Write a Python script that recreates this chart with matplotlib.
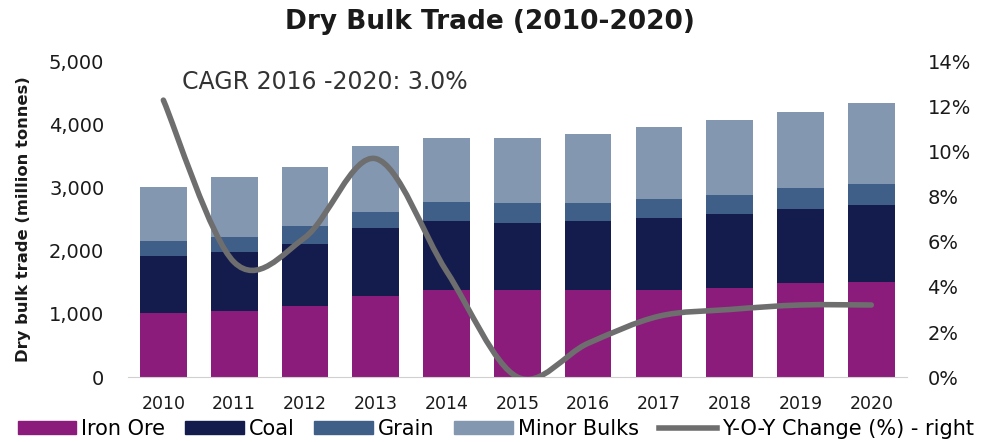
import numpy as np
import matplotlib
matplotlib.use("Agg")
import matplotlib.pyplot as plt
from matplotlib.path import Path
from matplotlib.patches import PathPatch, Patch
from matplotlib.lines import Line2D
from matplotlib.ticker import FuncFormatter

plt.rcParams['font.family'] = ['DejaVu Sans']

years = ['2010', '2011', '2012', '2013', '2014', '2015', '2016', '2017', '2018', '2019', '2020']
iron_ore = [1010, 1050, 1120, 1290, 1380, 1380, 1380, 1380, 1420, 1490, 1510]
coal = [910, 940, 990, 1070, 1100, 1070, 1090, 1140, 1160, 1180, 1220]
grain = [240, 230, 280, 260, 300, 310, 290, 310, 310, 330, 330]
minor_bulks = [860, 950, 950, 1050, 1020, 1030, 1090, 1130, 1190, 1210, 1290]
yoy_change = [12.3, 5.1, 6.2, 9.7, 4.7, 0.0, 1.5, 2.7, 3.0, 3.2, 3.2]

series_names = ['Iron Ore', 'Coal', 'Grain', 'Minor Bulks']
series_colors = ['#8C1C7B', '#141C4E', '#3F5E88', '#8497B1']
line_color = '#6E6E6E'
text_color = '#1a1a1a'

fig = plt.figure(figsize=(9.92, 4.42), dpi=100)
ax = fig.add_axes([0.129, 0.147, 0.785, 0.713])

x = np.arange(len(years))
bottom = np.zeros(len(years))
for name, vals, col in zip(series_names, [iron_ore, coal, grain, minor_bulks], series_colors):
    ax.bar(x, vals, width=0.66, bottom=bottom, color=col, label=name, zorder=2)
    bottom += np.array(vals)

ax.set_xlim(-0.5, len(years) - 0.5)
ax.set_ylim(0, 5000)
ax.set_yticks(np.arange(0, 5001, 1000))
ax.yaxis.set_major_formatter(FuncFormatter(lambda v, p: f'{int(v):,}'))
ax.set_xticks(x)
ax.set_xticklabels(years)
ax.tick_params(axis='both', length=0, colors=text_color)
ax.tick_params(axis='y', labelsize=14, pad=17)
ax.tick_params(axis='x', labelsize=12.5, pad=13)
for s in ['top', 'right', 'left']:
    ax.spines[s].set_visible(False)
ax.spines['bottom'].set_color('#d0d0d0')
ax.set_ylabel('Dry bulk trade (million tonnes)', fontsize=11.8, fontweight='bold', color=text_color)
ax.yaxis.set_label_coords(-0.125, 0.5)

# Secondary axis with the smoothed year-on-year change line
ax2 = ax.twinx()
ax2.set_ylim(0, 14)
ax2.set_yticks(np.arange(0, 15, 2))
ax2.yaxis.set_major_formatter(FuncFormatter(lambda v, p: f'{int(v)}%'))
ax2.tick_params(axis='y', length=0, labelsize=14, colors=text_color, pad=15)
for s in ['top', 'right', 'left', 'bottom']:
    ax2.spines[s].set_visible(False)

# Catmull-Rom style Bezier smoothing through the data points
pts = np.column_stack([x, yoy_change]).astype(float)
verts = [tuple(pts[0])]
codes = [Path.MOVETO]
n = len(pts)
for i in range(n - 1):
    p0 = pts[i - 1] if i > 0 else pts[i]
    p1 = pts[i]
    p2 = pts[i + 1]
    p3 = pts[i + 2] if i + 2 < n else pts[i + 1]
    c1 = p1 + (p2 - p0) / 6.0
    c2 = p2 - (p3 - p1) / 6.0
    verts += [tuple(c1), tuple(c2), tuple(p2)]
    codes += [Path.CURVE4] * 3
path = Path(verts, codes)
ax2.add_patch(PathPatch(path, facecolor='none', edgecolor=line_color, lw=4,
                        capstyle='round', joinstyle='round', zorder=3))

ax.text(0.07, 0.935, 'CAGR 2016 -2020: 3.0%', transform=ax.transAxes,
        fontsize=17, color='#333333', va='center', ha='left')

fig.text(0.494, 0.95, 'Dry Bulk Trade (2010-2020)', fontsize=19, fontweight='bold',
         ha='center', va='center', color=text_color)

handles = [Patch(color=c) for c in series_colors] + [Line2D([], [], color=line_color, lw=4)]
labels = series_names + ['Y-O-Y Change (%) - right']
fig.legend(handles, labels, loc='lower center', bbox_to_anchor=(0.5, -0.022), ncol=5,
           frameon=False, fontsize=15, handlelength=2.8, handleheight=0.6,
           handletextpad=0.25, columnspacing=0.95, borderaxespad=0.2)

fig.savefig('out.png', dpi=100, facecolor='white')
